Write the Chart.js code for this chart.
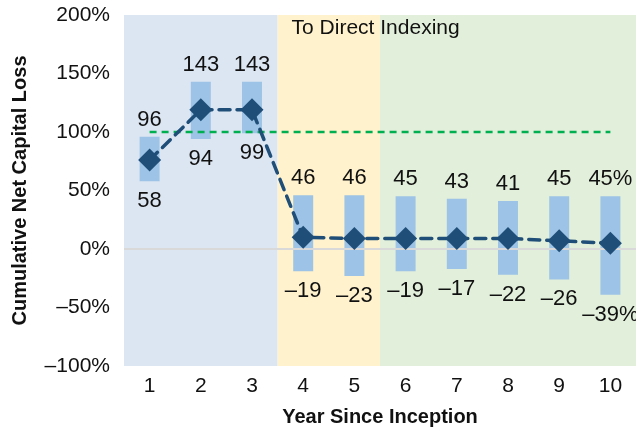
<!DOCTYPE html>
<html>
<head>
<meta charset="utf-8">
<script src="https://cdn.jsdelivr.net/npm/chart.js@4"></script>
<style>
  html, body { margin: 0; padding: 0; background: #fff; }
</style>
</head>
<body>
<canvas id="lossChart" width="636" height="435"></canvas>
<script>
// Datos
const years = ['1', '2', '3', '4', '5', '6', '7', '8', '9', '10']
const lossHigh = [96, 143, 143, 46, 46, 45, 43, 41, 45, 45]
const lossLow = [58, 94, 99, -19, -23, -19, -17, -22, -26, -39]
const lossMedian = [76, 119, 119, 10, 9, 9, 9, 9, 7, 5]
const threshold = [100, 100, 100, 100, 100, 100, 100, 100, 100, 100]
const yTicks = { min: -100, max: 200, step: 50 }

// Fases de fondo: [primer año, último año, color]
const phases = [
  [0, 2, '#DCE6F2'],
  [3, 4, '#FFF2CC'],
  [5, 9, '#E2EFDA'],
]
const phaseLabel = 'To Direct Indexing'

const FONT = "'Liberation Sans', Arial, sans-serif"

const fmt = (v, i) => {
  const s = (v < 0 ? '\u2013' + Math.abs(v) : String(v))
  return i === years.length - 1 ? s + '%' : s
}

// Bandas de fondo y texto de la fase
const backgroundPlugin = {
  id: 'phases',
  beforeDraw(chart) {
    const { ctx, chartArea, scales: { x } } = chart
    const half = (x.getPixelForValue(1) - x.getPixelForValue(0)) / 2
    ctx.save()
    for (const [from, to, color] of phases) {
      const left = x.getPixelForValue(from) - half
      const right = x.getPixelForValue(to) + half
      ctx.fillStyle = color
      ctx.fillRect(left, chartArea.top, right - left, chartArea.bottom - chartArea.top)
    }
    ctx.fillStyle = '#111'
    ctx.font = '21px ' + FONT
    ctx.textBaseline = 'alphabetic'
    ctx.textAlign = 'left'
    ctx.fillText(phaseLabel, x.getPixelForValue(phases[1][0]) - half + 14, chartArea.top + 19)
    ctx.restore()
  },
  // linea del cero encima de las barras
  afterDatasetDraw(chart, args) {
    if (args.meta.type !== 'bar') return
    const { ctx, chartArea, scales: { y } } = chart
    const y0 = y.getPixelForValue(0)
    ctx.save()
    ctx.strokeStyle = '#D9D9D9'
    ctx.lineWidth = 2
    ctx.beginPath()
    ctx.moveTo(chartArea.left, y0)
    ctx.lineTo(chartArea.right, y0)
    ctx.stroke()
    ctx.restore()
  },
}

// Etiquetas arriba y abajo de cada barra
const rangeLabels = {
  id: 'rangeLabels',
  afterDatasetsDraw(chart) {
    const { ctx, scales: { x, y } } = chart
    ctx.save()
    ctx.fillStyle = '#111'
    ctx.font = '22px ' + FONT
    ctx.textAlign = 'center'
    ctx.textBaseline = 'alphabetic'
    years.forEach((yr, i) => {
      const cx = x.getPixelForValue(i)
      ctx.fillText(fmt(lossHigh[i], i), cx, y.getPixelForValue(lossHigh[i]) - 11)
      ctx.fillText(fmt(lossLow[i], i), cx, y.getPixelForValue(lossLow[i]) + 26)
    })
    ctx.restore()
  },
}

new Chart(document.querySelector('#lossChart'), {
  type: 'bar',
  data: {
    labels: years,
    datasets: [
      {
        type: 'line',
        data: lossMedian,
        order: 1,
        borderColor: '#1F4E79',
        borderWidth: 3.5,
        borderDash: [11, 7],
        borderCapStyle: 'round',
        tension: 0,
        pointStyle: 'rectRot',
        pointRadius: 11.5,
        pointBackgroundColor: '#1F4E79',
        pointBorderWidth: 0,
      },
      {
        type: 'line',
        data: threshold,
        order: 2,
        borderColor: '#00B050',
        borderWidth: 2.5,
        borderDash: [7, 5],
        pointRadius: 0,
      },
      {
        type: 'bar',
        data: years.map((_, i) => [lossLow[i], lossHigh[i]]),
        order: 3,
        backgroundColor: '#9DC3E6',
        barPercentage: 0.39,
        categoryPercentage: 1,
      },
    ],
  },
  options: {
    responsive: false,
    animation: false,
    layout: { autoPadding: false, padding: { top: 15, right: 0, bottom: 0, left: 0 } },
    plugins: {
      legend: { display: false },
      tooltip: { enabled: false },
    },
    scales: {
      x: {
        grid: { display: false },
        border: { display: false },
        ticks: { color: '#111', font: { family: FONT, size: 21 }, padding: 0 },
        title: {
          display: true,
          text: 'Year Since Inception',
          color: '#111',
          font: { family: FONT, size: 20, weight: 'bold' },
          padding: { top: 0, bottom: 6 },
        },
        afterFit(scale) {
          scale.height = 69
          scale.paddingLeft = 0
          scale.paddingRight = 0
        },
      },
      y: {
        min: yTicks.min,
        max: yTicks.max,
        grid: { display: false, drawTicks: false },
        border: { display: false },
        ticks: {
          stepSize: yTicks.step,
          color: '#111',
          font: { family: FONT, size: 21 },
          padding: 14,
          callback: v => (v < 0 ? '\u2013' + Math.abs(v) : v) + '%',
        },
        title: {
          display: true,
          text: 'Cumulative Net Capital Loss',
          color: '#111',
          font: { family: FONT, size: 20, weight: 'bold' },
          padding: { top: 8, bottom: 0 },
        },
        afterFit(scale) {
          scale.width = 124
          scale.paddingTop = 0
          scale.paddingBottom = 0
        },
      },
    },
  },
  plugins: [backgroundPlugin, rangeLabels],
})
</script>
</body>
</html>
